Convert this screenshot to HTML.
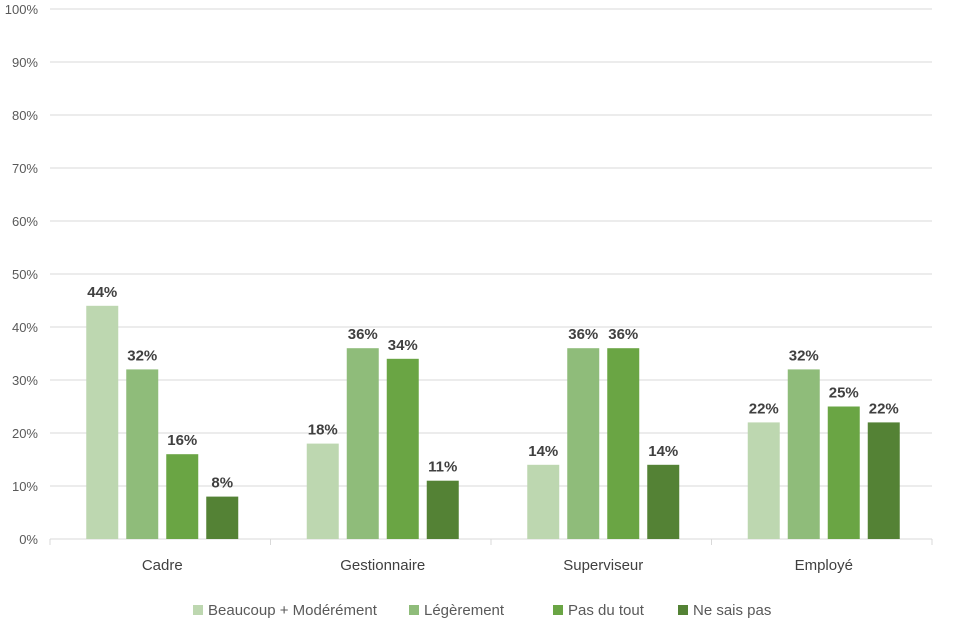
<!DOCTYPE html>
<html><head><meta charset="utf-8"><style>
body{margin:0;background:#fff;}
svg{display:block;font-family:"Liberation Sans",sans-serif;}
</style></head><body>
<svg id="c" width="961" height="639"></svg>
<script>
const categories=["Cadre","Gestionnaire","Superviseur","Employé"];
const seriesNames=["Beaucoup + Modérément","Légèrement","Pas du tout","Ne sais pas"];
const s1=[44,18,14,22];
const s2=[32,36,36,32];
const s3=[16,34,36,25];
const s4=[8,11,14,22];
const yTicks=[0,10,20,30,40,50,60,70,80,90,100];
const colors=["#BDD7B0","#8FBC7A","#6AA544","#548235"];
const series=[s1,s2,s3,s4];
const NS="http://www.w3.org/2000/svg";
const svg=document.getElementById('c');
const x0=50,x1=932,yB=539,yT=9;
const y=v=>yB-(v/100)*(yB-yT);
const catW=(x1-x0)/categories.length;
function mk(t,a,p){const e=document.createElementNS(NS,t);for(const k in a)e.setAttribute(k,a[k]);(p||svg).appendChild(e);return e;}
yTicks.forEach(t=>{
 const l=mk('line',{x1:x0,x2:x1,y1:y(t),y2:y(t),stroke:'#d9d9d9','stroke-width':1});
 
 
 const tx=mk('text',{x:38,y:y(t)+5,'text-anchor':'end','font-size':13,fill:'#595959'});
 tx.textContent=t+'%';
 
 
});
for(let i=0;i<=categories.length;i++){
 const t=mk('line',{x1:x0+i*catW,x2:x0+i*catW,y1:yB,y2:yB+6,stroke:'#d9d9d9'});
 
 
}
const bw=32,gap=8;
categories.forEach((c,ci)=>{
 const cx=x0+ci*catW+catW/2;
 const start=cx-(4*bw+3*gap)/2+2;
 series.forEach((s,si)=>{
  const bx=start+si*(bw+gap);
  const r=mk('rect',{x:bx,y:y(s[ci]),width:bw,height:yB-y(s[ci]),fill:colors[si]});
  
  
  const lb=mk('text',{x:bx+bw/2,y:y(s[ci])-9,'text-anchor':'middle','font-size':15,'font-weight':'bold',fill:'#404040'});
  lb.textContent=s[ci]+'%';
  
  
 });
 const ct=mk('text',{x:cx+2,y:570,'text-anchor':'middle','font-size':15,fill:'#404040'});
 ct.textContent=c;
 
 
});
const lx=[193,409,553,678];
seriesNames.forEach((n,i)=>{
 const g=mk('g',{});
 
 
 mk('rect',{x:lx[i],y:605,width:10,height:10,fill:colors[i]},g);
 const t=mk('text',{x:lx[i]+15,y:615,'font-size':15,fill:'#595959'},g);
 t.textContent=n;
});
</script>
</body></html>
